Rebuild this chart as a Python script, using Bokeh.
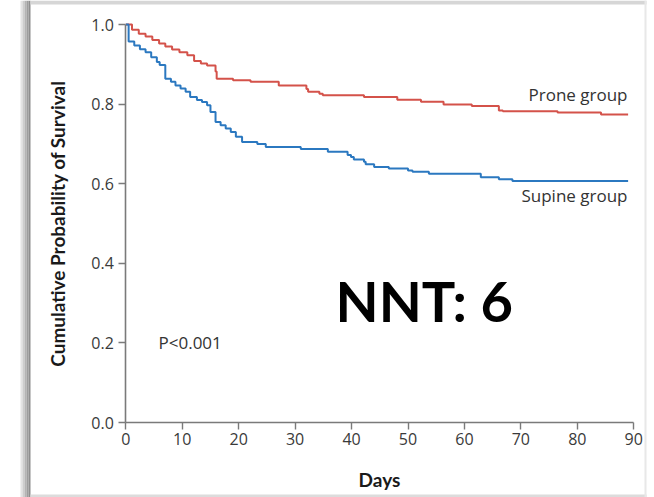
from bokeh.plotting import figure
from bokeh.models import (Range1d, FixedTicker, PrintfTickFormatter, Label, BoxAnnotation,
                          LinearAxis)
from bokeh.embed import file_html
from bokeh.resources import INLINE

# Kaplan-Meier step data (day of event, survival after the event)
prone_days = [0, 1.1, 2.3, 3.5, 4.7, 5.9, 7.0, 8.2, 9.5, 10.9, 12.1, 13.3, 14.4, 15.9, 16.1,
              19.0, 22.1, 27.1, 32.0, 32.3, 34.3, 34.9, 42.2, 48.1, 52.3, 56.3, 61.3, 66.1,
              66.8, 76.5, 84.2, 89.0]
prone_surv = [1.0, 0.987, 0.977, 0.970, 0.961, 0.952, 0.945, 0.937, 0.930, 0.923, 0.908, 0.902,
              0.897, 0.882, 0.864, 0.860, 0.856, 0.847, 0.838, 0.831, 0.826, 0.822, 0.818, 0.811,
              0.806, 0.799, 0.795, 0.784, 0.782, 0.779, 0.774, 0.774]

supine_days = [0, 0.5, 1.5, 2.5, 3.5, 4.5, 5.5, 6.0, 7.0, 8.0, 8.8, 9.7, 10.6, 11.4, 12.6, 13.5,
               14.4, 15.0, 15.9, 16.8, 17.7, 18.6, 19.5, 20.6, 23.3, 24.8, 31.0, 35.8, 39.3,
               39.9, 40.4, 42.2, 42.5, 44.0, 46.6, 50.0, 50.8, 53.7, 62.9, 66.1, 68.5, 89.0]
supine_surv = [1.0, 0.957, 0.947, 0.938, 0.930, 0.918, 0.906, 0.898, 0.864, 0.856, 0.847, 0.839,
               0.831, 0.818, 0.810, 0.805, 0.797, 0.780, 0.755, 0.747, 0.739, 0.730, 0.718, 0.705,
               0.700, 0.692, 0.687, 0.680, 0.672, 0.667, 0.661, 0.655, 0.649, 0.642, 0.638,
               0.633, 0.630, 0.625, 0.616, 0.611, 0.607, 0.607]

x_ticks = [0, 10, 20, 30, 40, 50, 60, 70, 80, 90]
y_ticks = [0.0, 0.2, 0.4, 0.6, 0.8, 1.0]

# canvas layout: origin of the axes and pixel scale of each axis
W, H = 654, 497
X0_PX, Y0_PX = 125.3, 75.0          # origin, measured from left / bottom
PX_PER_DAY, PX_PER_UNIT = 5.644, 398.0

x_range = Range1d(-X0_PX / PX_PER_DAY, (W - X0_PX) / PX_PER_DAY)
y_range = Range1d(-Y0_PX / PX_PER_UNIT, (H - Y0_PX) / PX_PER_UNIT)

p = figure(width=W, height=H, output_backend="svg", toolbar_location=None,
           x_range=x_range, y_range=y_range,
           x_axis_location=None, y_axis_location=None,
           min_border=0, min_border_left=0, min_border_right=0,
           min_border_top=0, min_border_bottom=0)
p.background_fill_color = "white"
p.border_fill_color = "white"
p.outline_line_color = None
p.grid.visible = False


def box(left, right, bottom, top, color):
    p.add_layout(BoxAnnotation(left=left, right=right, bottom=bottom, top=top,
                               left_units="screen", right_units="screen",
                               top_units="screen", bottom_units="screen",
                               fill_color=color, fill_alpha=1, line_color=None))


# card frame with a soft shadow on its left edge
for i, c in enumerate(["#e4e4e4", "#cdcdcd", "#b4b4b4", "#9e9e9e", "#8e8e8e"]):
    box(20 + 2 * i, 22 + 2 * i, 0, H, c)
box(30, 646, H - 4, H, "#d6d6d6")
box(30, 646, 0, 3, "#dcdcdc")
box(644, 646, 0, H, "#e8e8e8")

p.step(prone_days, prone_surv, mode="after", line_color="#d4524a", line_width=2)
p.step(supine_days, supine_surv, mode="after", line_color="#2b78c0", line_width=2)

xaxis = LinearAxis(fixed_location=0, bounds=(0, 90), ticker=FixedTicker(ticks=x_ticks),
                   axis_label="Days")
yaxis = LinearAxis(fixed_location=0, bounds=(0, 1.0), ticker=FixedTicker(ticks=y_ticks),
                   formatter=PrintfTickFormatter(format="%.1f"),
                   axis_label="Cumulative Probability of Survival")

for ax in (xaxis, yaxis):
    ax.axis_line_color = "#7a7a7a"
    ax.axis_line_width = 1.6
    ax.major_tick_line_color = "#7a7a7a"
    ax.major_tick_line_width = 1.4
    ax.major_tick_out = 7
    ax.major_tick_in = 0
    ax.minor_tick_out = 0
    ax.minor_tick_in = 0
    ax.major_label_text_font = "Open Sans"
    ax.major_label_text_font_size = "16px"
    ax.major_label_text_color = "#3a3a3a"
    ax.axis_label_text_font = "Lato"
    ax.axis_label_text_font_style = "bold"
    ax.axis_label_text_font_size = "19px"
    ax.axis_label_text_color = "#1a1a1a"

xaxis.major_label_standoff = 3
xaxis.axis_label_standoff = 20
yaxis.major_label_standoff = 5
yaxis.axis_label_standoff = 19

p.add_layout(xaxis, "below")
p.add_layout(yaxis, "left")

label_kw = dict(x_units="screen", y_units="screen", text_font="Open Sans",
                text_font_size="17px", text_color="#333333", text_baseline="middle")
p.add_layout(Label(x=627, y=403, text="Prone group", text_align="right", **label_kw))
p.add_layout(Label(x=627, y=302, text="Supine group", text_align="right", **label_kw))
p.add_layout(Label(x=158, y=155, text="P<0.001", text_align="left", **label_kw))

p.add_layout(Label(x=335, y=197, x_units="screen", y_units="screen", text="NNT: 6",
                   text_font="Lato", text_font_style="bold", text_font_size="56px",
                   text_color="#000000", text_align="left", text_baseline="middle"))

open("out.html", "w").write(file_html(p, INLINE))
